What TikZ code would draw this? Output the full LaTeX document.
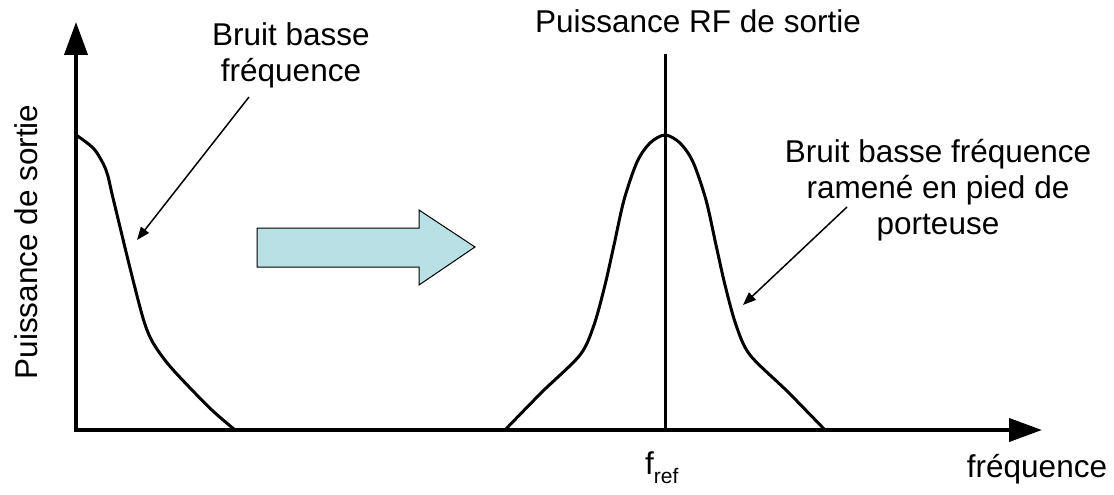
\documentclass[tikz,border=0pt]{standalone}
\usepackage{fontspec}
\setmainfont{Liberation Sans}
\usepackage{tikz}
\usetikzlibrary{
    arrows.meta,
    calc
}
\definecolor{paleteal}{RGB}{185,224,228}
\tikzset
{
  axis/.style={draw=black,line width=4pt,-{Triangle[length=33pt,width=23pt]}},
  spectrum/.style={draw=black,line width=3pt,line join=round},
  pointer/.style={draw=black,line width=1.5pt,-{Triangle[length=13pt,width=10pt]}},
  blockarrow/.style={draw=black,line width=1pt,fill=paleteal,line join=miter},
  textlabel/.style={font=\fontsize{31.5}{36}\selectfont,align=center,inner sep=0pt}
}

\begin{document}
\begin{tikzpicture}[x=1pt,y=-1pt]
    \useasboundingbox (0,0) rectangle (1114,495);

    % Define the origin and the carrier frequency
    \pgfmathsetmacro{\ox}{76}
    \pgfmathsetmacro{\oy}{430}
    \pgfmathsetmacro{\fref}{665}

    % Draw the axes
    \coordinate (xstart) at (\ox-2,\oy);
    \coordinate (xend) at (1042,\oy);
    \coordinate (ystart) at (\ox,\oy+2);
    \coordinate (yend) at (\ox,22);
    \draw[axis] (xstart) -- (xend);
    \draw[axis] (ystart) -- (yend);

    % Draw the low frequency noise
    \draw[spectrum] plot[smooth,tension=0.5] coordinates
        {(\ox,135) (94,149) (106,170) (113,198) (130,268) (143,318) (152,341)
         (168,364) (192,390) (214,412) (235,430)};

    % Draw the carrier and its noise skirt
    \coordinate (carbot) at (\fref,\oy);
    \coordinate (cartop) at (\fref,54);
    \draw[spectrum] (carbot) -- (cartop);
    \draw[spectrum] plot[smooth,tension=0.5] coordinates
        {(505,430) (542,392) (580,355) (594,325) (605,285) (614,245) (624,200)
         (637,162) (650,143) (\fref,135)
         (680,143) (693,162) (706,200) (716,245) (725,285) (736,325) (750,355)
         (788,392) (825,430)};

    % Draw the conversion arrow
    \draw[blockarrow] (257,228) -- (419,228) -- (419,210) -- (475,247)
        -- (419,285) -- (419,267) -- (257,267) -- cycle;

    % Draw the labels
    \node[textlabel] (lowlabel) at (291,55.5) {Bruit basse\\fréquence};
    \node[textlabel] (skirtlabel) at (938,190) {Bruit basse fréquence\\ramené en pied de\\porteuse};
    \node[textlabel,anchor=base] (rflabel) at (698,33) {Puissance RF de sortie};
    \node[textlabel,anchor=base,rotate=90] (ylabel) at (37,242) {Puissance de sortie};
    \node[textlabel,anchor=base] (xlabel) at (1037,477) {fréquence};
    \node[textlabel,anchor=base west] (freflabel) at (645,474)
        {f\raisebox{-9pt}{\fontsize{21}{21}\selectfont ref}};

    % Draw the pointers to the noise
    \coordinate (lowtail) at (249,97);
    \coordinate (lowtip) at (137,240);
    \draw[pointer] (lowtail) -- (lowtip);
    \coordinate (skirttail) at (847,207);
    \coordinate (skirttip) at (743,305);
    \draw[pointer] (skirttail) -- (skirttip);

\end{tikzpicture}
\end{document}
